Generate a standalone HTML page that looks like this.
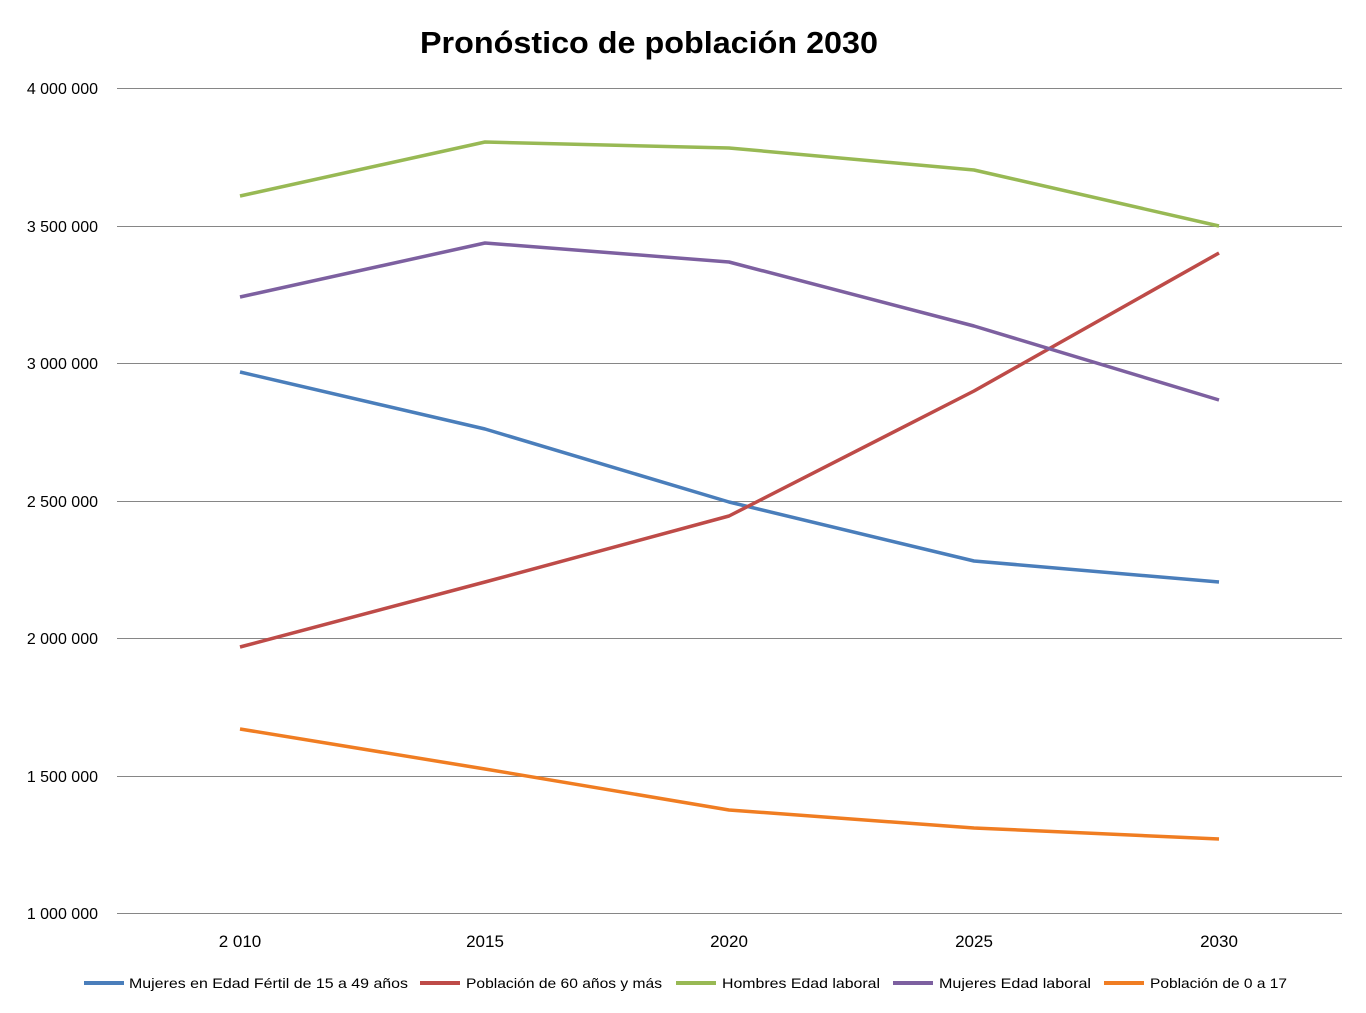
<!DOCTYPE html>
<html><head><meta charset="utf-8"><style>
html,body{margin:0;padding:0;background:#fff;}
svg{display:block;font-family:"Liberation Sans",sans-serif;}
</style></head><body>
<svg width="1366" height="1013" viewBox="0 0 1366 1013">
<rect width="1366" height="1013" fill="#fff"/>
<text x="649" y="53" text-anchor="middle" font-size="31" font-weight="bold" textLength="458" lengthAdjust="spacingAndGlyphs">Pronóstico de población 2030</text>
<g stroke="#868686" stroke-width="1">
<line x1="117" y1="88.5" x2="1342" y2="88.5"/>
<line x1="117" y1="226.5" x2="1342" y2="226.5"/>
<line x1="117" y1="363.5" x2="1342" y2="363.5"/>
<line x1="117" y1="501.5" x2="1342" y2="501.5"/>
<line x1="117" y1="638.5" x2="1342" y2="638.5"/>
<line x1="117" y1="776.5" x2="1342" y2="776.5"/>
<line x1="117" y1="913.5" x2="1342" y2="913.5"/>
</g>
<g font-size="16" text-anchor="end" fill="#000">
<text x="98" y="94">4 000 000</text>
<text x="98" y="232">3 500 000</text>
<text x="98" y="369">3 000 000</text>
<text x="98" y="507">2 500 000</text>
<text x="98" y="644">2 000 000</text>
<text x="98" y="782">1 500 000</text>
<text x="98" y="919">1 000 000</text>
</g>
<g font-size="17" text-anchor="middle">
<text x="240" y="947">2 010</text>
<text x="485" y="947">2015</text>
<text x="729" y="947">2020</text>
<text x="974" y="947">2025</text>
<text x="1219" y="947">2030</text>
</g>
<g fill="none" stroke-width="3.5" stroke-linejoin="round">
<polyline stroke="#4a7ebb" points="240,372 485,429 729,502 974,561 1219,582"/>
<polyline stroke="#be4b48" points="240,647 485,582 729,516 974,391 1219,253"/>
<polyline stroke="#98b954" points="240,196 485,142 729,148 974,170 1219,226"/>
<polyline stroke="#7d60a0" points="240,297 485,243 729,262 974,326 1219,400"/>
<polyline stroke="#f07d22" points="240,729 485,769 729,810 974,828 1219,839"/>
</g>
<g stroke-width="4">
<line x1="84" y1="983" x2="124" y2="983" stroke="#4a7ebb"/>
<line x1="420" y1="983" x2="460" y2="983" stroke="#be4b48"/>
<line x1="676" y1="983" x2="716" y2="983" stroke="#98b954"/>
<line x1="893" y1="983" x2="933" y2="983" stroke="#7d60a0"/>
<line x1="1104" y1="983" x2="1144" y2="983" stroke="#f07d22"/>
</g>
<g font-size="14">
<text x="129" y="988" textLength="279" lengthAdjust="spacingAndGlyphs">Mujeres en Edad Fértil de 15 a 49 años</text>
<text x="466" y="988" textLength="196" lengthAdjust="spacingAndGlyphs">Población de 60 años y más</text>
<text x="722" y="988" textLength="158" lengthAdjust="spacingAndGlyphs">Hombres Edad laboral</text>
<text x="939" y="988" textLength="152" lengthAdjust="spacingAndGlyphs">Mujeres Edad laboral</text>
<text x="1150" y="988" textLength="137" lengthAdjust="spacingAndGlyphs">Población de 0 a 17</text>
</g>
</svg>
</body></html>
